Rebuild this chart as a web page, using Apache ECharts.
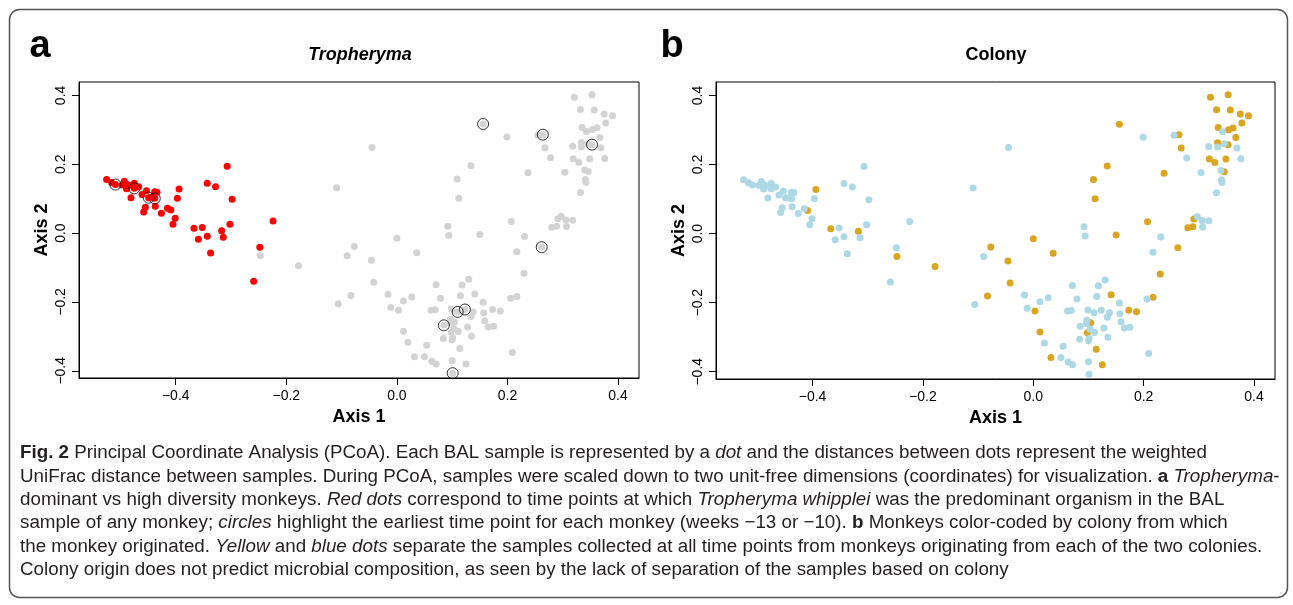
<!DOCTYPE html>
<html><head><meta charset="utf-8">
<script src="https://cdn.jsdelivr.net/npm/echarts@6/dist/echarts.min.js"></script>
<style>html,body{margin:0;padding:0;background:#fff}#c{width:1293px;height:605px}</style>
</head><body><div id="c"></div>
<script>
// PCoA coordinates of each BAL sample (Axis 1, Axis 2)
const axis1 = [
 -0.525,-0.516,-0.509,-0.493,-0.497,-0.488,-0.489,-0.480,-0.475,-0.475,-0.467,-0.481,-0.461,-0.453,-0.449,-0.444,-0.438,-0.438,-0.434,-0.455,
 -0.458,-0.437,-0.426,-0.415,-0.409,-0.394,-0.397,-0.401,-0.405,-0.367,-0.352,-0.343,-0.359,-0.337,-0.343,-0.328,-0.307,-0.298,-0.317,-0.314,-0.302,
 -0.045,-0.109,-0.224,-0.248,-0.247,-0.178,-0.259,-0.077,-0.090,0.000,-0.106,-0.083,
 0.321,0.353,0.332,0.357,0.375,0.390,0.378,0.335,0.343,0.354,0.362,0.367,0.334,0.346,0.353,0.318,0.334,0.369,0.319,0.329,
 0.349,0.376,0.278,0.264,0.255,0.268,0.199,0.156,0.304,0.340,0.346,0.341,0.342,0.332,0.237,0.134,0.109,0.112,0.297,0.291,
 0.306,0.318,0.307,0.280,0.289,0.207,0.092,0.094,0.150,0.231,
 0.036,-0.046,-0.042,0.262,0.217,0.230,0.217,0.206,0.209,-0.016,0.012,0.027,-0.011,0.003,0.012,0.020,0.032,0.050,0.054,0.063,
 0.071,0.071,0.079,0.062,0.069,0.085,0.084,0.097,0.096,0.104,0.098,0.099,0.103,0.101,0.100,0.110,0.111,0.114,0.100,0.101,
 0.125,0.115,0.118,0.130,0.141,0.123,0.138,0.134,0.128,0.135,0.156,0.157,0.159,0.165,0.175,0.173,0.187
];
const axis2 = [
 0.156,0.147,0.141,0.151,0.140,0.141,0.129,0.138,0.145,0.130,0.135,0.103,0.112,0.123,0.103,0.104,0.101,0.120,0.119,0.075,
 0.061,0.078,0.058,0.072,0.067,0.128,0.101,0.043,0.026,0.014,0.016,-0.009,-0.018,-0.058,0.145,0.135,0.194,0.098,0.007,-0.012,0.026,
 0.249,0.132,0.035,-0.041,-0.066,-0.095,-0.140,-0.039,-0.066,-0.015,-0.205,-0.181,
 0.395,0.402,0.359,0.358,0.346,0.341,0.320,0.307,0.295,0.301,0.306,0.278,0.263,0.260,0.257,0.252,0.251,0.248,0.216,0.206,
 0.216,0.217,0.219,0.286,0.285,0.248,0.279,0.317,0.177,0.183,0.179,0.156,0.148,0.118,0.175,0.196,0.157,0.101,0.049,0.042,
 0.038,0.037,0.019,0.017,0.020,0.034,0.020,-0.007,-0.004,-0.010,
 -0.057,-0.079,-0.143,-0.041,-0.054,-0.117,-0.184,-0.189,-0.347,-0.178,-0.197,-0.186,-0.216,-0.224,-0.285,-0.317,-0.359,-0.359,-0.326,-0.372,
 -0.380,-0.150,-0.189,-0.224,-0.223,-0.268,-0.306,-0.250,-0.260,-0.258,-0.287,-0.221,-0.277,-0.303,-0.310,-0.229,-0.286,-0.335,-0.371,-0.407,
 -0.380,-0.182,-0.151,-0.134,-0.177,-0.222,-0.229,-0.242,-0.273,-0.300,-0.201,-0.232,-0.255,-0.273,-0.271,-0.222,-0.226
];
// colony of origin: 'Y' = yellow colony, 'B' = blue colony
const colony = [
 'B','B','B','B','B','B','B','B','B','B','B','B','B','B','B','B','B','B','B','B',
 'B','B','B','B','Y','Y','B','B','B','Y','B','B','B','B','B','B','B','B','Y','B','B',
 'B','B','B','B','Y','Y','B','Y','B','Y','B','Y',
 'Y','Y','Y','Y','Y','Y','Y','Y','B','Y','Y','Y','Y','B','Y','B','B','B','Y','Y',
 'Y','B','B','Y','B','Y','B','Y','B','B','Y','B','B','B','Y','Y','Y','Y','B','Y',
 'B','B','B','Y','Y','Y','B','B','Y','B',
 'Y','Y','Y','Y','B','Y','Y','B','B','B','B','B','B','Y','Y','B','Y','B','B','B',
 'B','B','B','B','B','B','B','B','B','Y','Y','B','B','B','B','B','B','Y','B','B',
 'Y','B','B','B','Y','B','B','B','B','B','B','B','B','B','B','Y','Y'
];
// 1 = Tropheryma whipplei predominant in the sample
const tropDominant = [
 1,1,1,1,1,1,1,1,1,1,1,1,1,1,1,1,1,1,1,1,
 1,1,1,1,1,1,1,1,1,1,1,1,1,1,1,1,1,1,1,1,1,
 0,0,1,1,0,0,1,0,0,0,0,0,
 0,0,0,0,0,0,0,0,0,0,0,0,0,0,0,0,0,0,0,0,
 0,0,0,0,0,0,0,0,0,0,0,0,0,0,0,0,0,0,0,0,
 0,0,0,0,0,0,0,0,0,0,
 0,0,0,0,0,0,0,0,0,0,0,0,0,0,0,0,0,0,0,0,
 0,0,0,0,0,0,0,0,0,0,0,0,0,0,0,0,0,0,0,0,
 0,0,0,0,0,0,0,0,0,0,0,0,0,0,0,0,0
];
// samples at the earliest time point of each monkey (indices)
const earliest = [2, 9, 14, 16, 67, 76, 80, 106, 128, 138, 142, 148];

const tickValues = [-0.4, -0.2, 0, 0.2, 0.4];
const panelTitles = ['Tropheryma', 'Colony'];
const panelLetters = ['a', 'b'];
const axisNames = ['Axis 1', 'Axis 2'];
const captionLines = [
 '{b|Fig. 2} Principal Coordinate Analysis (PCoA). Each BAL sample is represented by a {i|dot} and the distances between dots represent the weighted',
 'UniFrac distance between samples. During PCoA, samples were scaled down to two unit-free dimensions (coordinates) for visualization. {b|a} {i|Tropheryma}-',
 'dominant vs high diversity monkeys. {i|Red dots} correspond to time points at which {i|Tropheryma whipplei} was the predominant organism in the BAL',
 'sample of any monkey; {i|circles} highlight the earliest time point for each monkey (weeks \u221213 or \u221210). {b|b} Monkeys color-coded by colony from which',
 'the monkey originated. {i|Yellow} and {i|blue dots} separate the samples collected at all time points from monkeys originating from each of the two colonies.',
 'Colony origin does not predict microbial composition, as seen by the lack of separation of the samples based on colony'
];

const FONT = 'Liberation Sans, Arial, Helvetica, sans-serif';
const CAP_FONT = 'Liberation Sans, Arial, sans-serif';
const CAP_SIZE = 18.8;
const idx = axis1.map((_, i) => i);
const pt = i => [axis1[i], axis2[i]];
const greyPts = idx.filter(i => !tropDominant[i]).map(pt);
const redPts = idx.filter(i => tropDominant[i]).map(pt);
const circlePts = earliest.map(pt);
const yellowPts = idx.filter(i => colony[i] === 'Y').map(pt);
const bluePts = idx.filter(i => colony[i] === 'B').map(pt);

const fmt = v => (Math.abs(v) < 1e-9 ? '0.0' : v.toFixed(1).replace('-', '\u2212'));

function xAx(g) {
  return {
    type: 'value', gridIndex: g, min: -0.575, max: 0.438,
    splitLine: { show: false },
    axisLine: { show: true, onZero: false, lineStyle: { color: '#000', width: 1 } },
    axisTick: { show: true, customValues: tickValues, length: 7, lineStyle: { color: '#000' } },
    axisLabel: { customValues: tickValues, formatter: fmt, color: '#000', fontSize: 14, fontFamily: FONT, margin: 11 },
    name: axisNames[0], nameLocation: 'middle', nameGap: 30,
    nameTextStyle: { fontWeight: 'bold', fontSize: 18, color: '#000', fontFamily: FONT }
  };
}
function yAx(g) {
  return {
    type: 'value', gridIndex: g, min: -0.421, max: 0.439,
    splitLine: { show: false },
    axisLine: { show: true, onZero: false, lineStyle: { color: '#000', width: 1 } },
    axisTick: { show: true, customValues: tickValues, length: 7, lineStyle: { color: '#000' } },
    axisLabel: { customValues: tickValues, formatter: fmt, color: '#000', fontSize: 14, fontFamily: FONT, rotate: 90, margin: 11 },
    name: axisNames[1], nameLocation: 'middle', nameGap: 28,
    nameTextStyle: { fontWeight: 'bold', fontSize: 18, color: '#000', fontFamily: FONT }
  };
}
function sc(x, y, data, color, size, extra) {
  return Object.assign({
    type: 'scatter', xAxisIndex: x, yAxisIndex: y, data: data, symbolSize: size,
    itemStyle: { color: color, opacity: 1 }, silent: true, animation: false
  }, extra || {});
}

const chart = echarts.init(document.getElementById('c'), null, { renderer: 'canvas' });
const graphics = [
  { type: 'rect', shape: { x: 9.5, y: 9.5, width: 1278, height: 588, r: 10 },
    style: { fill: 'none', stroke: '#555', lineWidth: 1.5 } },
  { type: 'text', x: 40, y: 47, style: { text: panelLetters[0], font: 'bold 38px ' + FONT, fill: '#000', textAlign: 'center', textVerticalAlign: 'middle' } },
  { type: 'text', x: 672, y: 47, style: { text: panelLetters[1], font: 'bold 38px ' + FONT, fill: '#000', textAlign: 'center', textVerticalAlign: 'middle' } },
  { type: 'text', x: 360, y: 55, style: { text: panelTitles[0], font: 'italic bold 18px ' + FONT, fill: '#000', textAlign: 'center', textVerticalAlign: 'middle' } },
  { type: 'text', x: 996, y: 55, style: { text: panelTitles[1], font: 'bold 18px ' + FONT, fill: '#000', textAlign: 'center', textVerticalAlign: 'middle' } }
];
captionLines.forEach((t, k) => {
  graphics.push({
    type: 'text', x: 20, y: 453 + k * 23.4,
    style: {
      text: t, fontSize: CAP_SIZE, fontFamily: CAP_FONT, fill: '#231f20', textVerticalAlign: 'middle',
      rich: {
        b: { fontWeight: 'bold', fontSize: CAP_SIZE, fontFamily: CAP_FONT, fill: '#231f20' },
        i: { fontStyle: 'italic', fontSize: CAP_SIZE, fontFamily: CAP_FONT, fill: '#231f20' }
      }
    }
  });
});

chart.setOption({
  animation: false,
  backgroundColor: '#fff',
  grid: [
    { left: 79, top: 82, width: 560, height: 296, show: true, borderColor: '#000', borderWidth: 1, backgroundColor: 'transparent' },
    { left: 716, top: 82, width: 559, height: 297, show: true, borderColor: '#000', borderWidth: 1, backgroundColor: 'transparent' }
  ],
  xAxis: [xAx(0), xAx(1)],
  yAxis: [yAx(0), yAx(1)],
  series: [
    sc(0, 0, greyPts, '#d3d3d3', 7),
    sc(0, 0, redPts, '#ff0000', 7),
    sc(0, 0, circlePts, 'rgba(0,0,0,0)', 11, { itemStyle: { color: 'rgba(0,0,0,0)', borderColor: '#000', borderWidth: 1 } }),
    sc(1, 1, yellowPts, '#daa520', 7),
    sc(1, 1, bluePts, '#add8e6', 7)
  ],
  graphic: graphics
});
</script>
</body></html>
